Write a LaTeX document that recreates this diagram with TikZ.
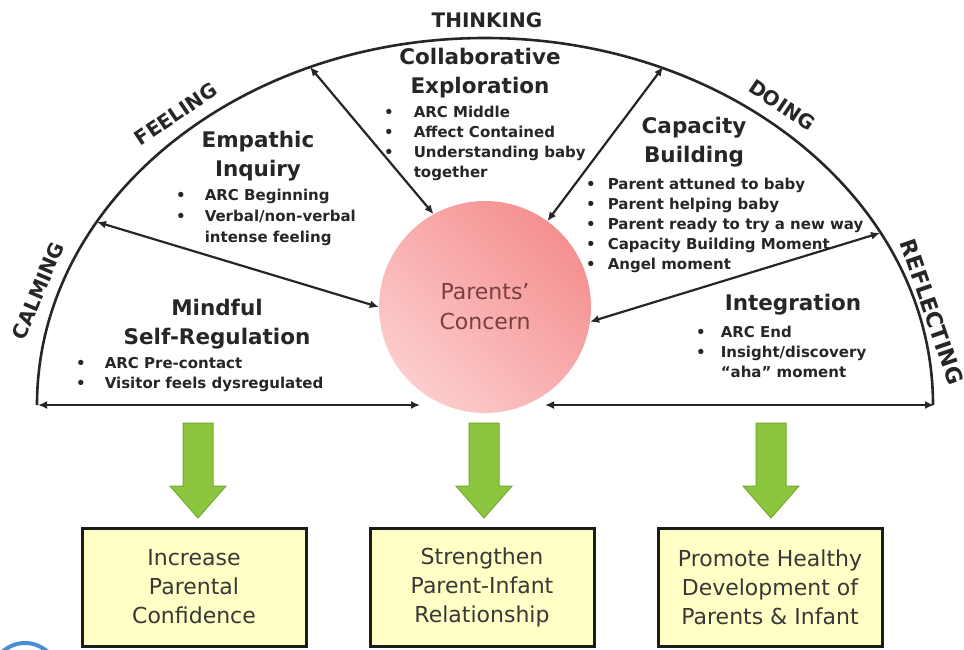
\documentclass[tikz,border=0pt]{standalone}
\usepackage{fontspec}
\setmainfont{DejaVu Sans}
\usetikzlibrary{arrows.meta}
\definecolor{ink}{HTML}{262626}
\definecolor{pinkA}{HTML}{FCCCCC}
\definecolor{pinkB}{HTML}{F59090}
\definecolor{concern}{HTML}{7A3E3E}
\definecolor{arrowgreen}{HTML}{8CC63F}
\definecolor{arrowedge}{HTML}{74AA2C}
\definecolor{boxfill}{HTML}{FFFFC6}
\definecolor{boxline}{HTML}{1C1C1C}
\definecolor{boxtext}{HTML}{383838}
\definecolor{ringblue}{HTML}{4A8FD6}
\newcommand{\blt}[2]{\begin{tabular}{@{}l@{\hspace{#1}}l@{}}#2\end{tabular}}
\begin{document}
\begin{tikzpicture}[x=1pt,y=-1pt,
  arcline/.style={line width=2.6pt, color=ink},
  link/.style={line width=2.2pt, color=ink, {Latex[length=9pt,width=8pt]}-{Latex[length=9pt,width=8pt]}},
  headtxt/.style={font=\fontsize{21.5}{29}\selectfont\bfseries, text=ink, align=center, inner sep=0pt},
  blist/.style={font=\fontsize{15}{20}\selectfont\bfseries, text=ink, anchor=north west, inner sep=0pt},
  arclabel/.style={font=\fontsize{20}{20}\selectfont\bfseries, text=ink, inner sep=0pt},
  outbox/.style={draw=boxline, line width=3pt, fill=boxfill, minimum width=224pt, minimum height=118pt, align=center, font=\fontsize{22}{29}\selectfont, text=boxtext},
  greenarrow/.style={fill=arrowgreen, draw=arrowedge, line width=1pt, line join=miter}
]
\useasboundingbox (0,0) rectangle (964,650);
\clip (0,0) rectangle (964,650);

% outer half ellipse
\draw[arcline] (37,405) arc[start angle=180, end angle=360, x radius=448, y radius=367];

% central circle
\node[circle, minimum size=212pt, inner sep=0pt, top color=pinkB, bottom color=pinkA, shading angle=-45,
      align=center, font=\fontsize{22}{30}\selectfont, text=concern] (pc) at (485,307) {Parents'\\Concern};

% connectors
\coordinate (t1) at (310,67);
\coordinate (t2) at (663,67);
\coordinate (m1) at (97,222);
\coordinate (m2) at (880,233);
\coordinate (bl) at (38,405);
\coordinate (blm) at (420,405);
\coordinate (brm) at (545,405);
\coordinate (br) at (934,405);
\draw[link] (t1) -- (pc.119);
\draw[link] (t2) -- (pc.54);
\draw[link] (m1) -- (pc.180);
\draw[link] (m2) -- (pc.-8);
\draw[link] (bl) -- (blm);
\draw[link] (brm) -- (br);

% arc labels
\node[arclabel] (lt) at (487,20) {THINKING};
\node[arclabel, rotate=34] (lf) at (176,114) {FEELING};
\node[arclabel, rotate=-34] (ld) at (782,105) {DOING};
\node[arclabel, rotate=67] (lc) at (38,291) {CALMING};
\node[arclabel, rotate=-71, font=\fontsize{22}{22}\selectfont\bfseries] (lr) at (932,312) {REFLECTING};

% headings
\node[headtxt] (h1) at (480,73) {Collaborative\\Exploration};
\node[headtxt] (h2) at (258,156) {Empathic\\Inquiry};
\node[headtxt] (h3) at (217,324) {Mindful\\Self-Regulation};
\node[headtxt] (h4) at (694,142) {Capacity\\Building};
\node[headtxt] (h5) at (793,305) {Integration};

% bullet lists
\node[blist] (b1) at (384,103) {\blt{20pt}{\textbullet & ARC Middle\\ \textbullet & Affect Contained\\ \textbullet & Understanding baby\\ & together}};
\node[blist, font=\fontsize{15}{21}\selectfont\bfseries] (b2) at (176,186) {\blt{19pt}{\textbullet & ARC Beginning\\ \textbullet & Verbal/non-verbal\\ & intense feeling}};
\node[blist] (b3) at (76,354) {\blt{19pt}{\textbullet & ARC Pre-contact\\ \textbullet & Visitor feels dysregulated}};
\node[blist] (b4) at (586,175) {\blt{12pt}{\textbullet & Parent attuned to baby\\ \textbullet & Parent helping baby\\ \textbullet & Parent ready to try a new way\\ \textbullet & Capacity Building Moment\\ \textbullet & Angel moment}};
\node[blist] (b5) at (696,323) {\blt{15pt}{\textbullet & ARC End\\ \textbullet & Insight/discovery\\ & ``aha'' moment}};

% outcome boxes
\node[outbox] (o1) at (194,587) {Increase\\Parental\\Confidence};
\node[outbox] (o2) at (482,587) {Strengthen\\Parent-Infant\\Relationship};
\node[outbox] (o3) at (770,587) {Promote Healthy\\Development of\\Parents \& Infant};

% green arrows
\foreach \cx in {198,484,771}
  \filldraw[greenarrow] (\cx-15,423) -- (\cx+15,423) -- (\cx+15,486) -- (\cx+28,486)
     -- (\cx,518) -- (\cx-28,486) -- (\cx-15,486) -- cycle;

% partial blue ring at bottom left
\draw[ringblue, line width=4pt] (25,676) circle[radius=33];
\end{tikzpicture}
\end{document}
